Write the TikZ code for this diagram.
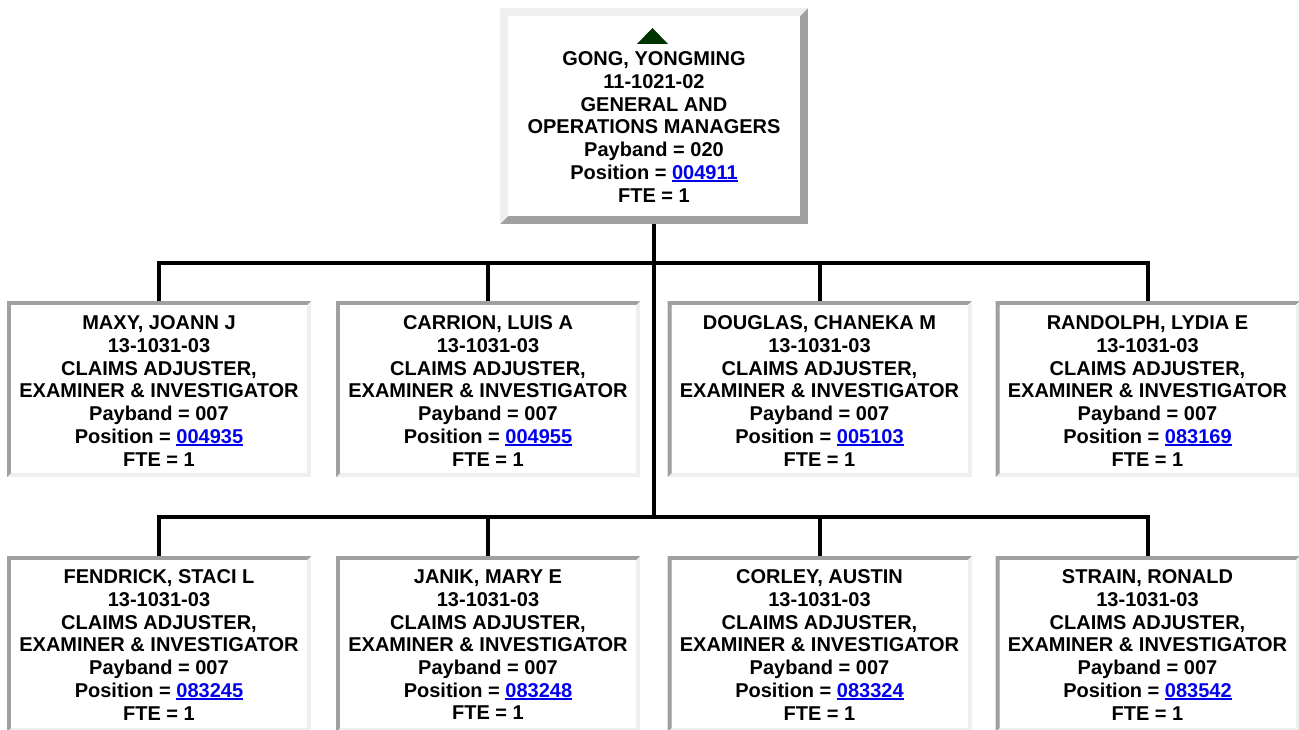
\documentclass[tikz,border=0pt]{standalone}
\usepackage{fontspec}
\setmainfont{Liberation Sans}
\usetikzlibrary{calc}
\definecolor{darkbev}{HTML}{A0A0A0}
\definecolor{lightbev}{HTML}{EFEFEF}
\definecolor{linkblue}{HTML}{0000EE}
\definecolor{tricol}{HTML}{003300}
\newcommand\lnk[1]{{\color{linkblue}\setbox0=\hbox{#1}\rlap{\rule[-3pt]{\wd0}{2pt}}\box0}}
\newcommand\bevel[4]{%
  \fill[#4] (#1.north west) rectangle (#1.south east);
  \fill[#3] (#1.south west) -- (#1.north west) -- (#1.north east)
     -- ([shift={(-#2pt,-#2pt)}]#1.north east) -- ([shift={(#2pt,-#2pt)}]#1.north west)
     -- ([shift={(#2pt,#2pt)}]#1.south west) -- cycle;
  \fill[white] ([shift={(#2pt,-#2pt)}]#1.north west) rectangle ([shift={(-#2pt,#2pt)}]#1.south east);
}
\newcommand\emp[4]{#1\\13-1031-03\\CLAIMS ADJUSTER,\\EXAMINER \& INVESTIGATOR\\Payband = 007\\Position = \lnk{#2}\\FTE = 1}
\tikzset{
  boxshape/.style={inner sep=0pt, outer sep=0pt, minimum width=304pt, minimum height=176pt},
  topshape/.style={inner sep=0pt, outer sep=0pt, minimum width=308pt, minimum height=216pt},
  txt/.style={inner sep=0pt, align=center, font=\bfseries\fontsize{20}{22.7}\selectfont, text=black},
  conn/.style={draw=black, line width=4pt, line join=miter},
}
\begin{document}
\begin{tikzpicture}[x=1pt, y=-1pt]
\useasboundingbox (0,0) rectangle (1299,730);
% box placeholders
\node[topshape] (top) at (654,116) {};
\node[boxshape] (b1) at (159,389) {};
\node[boxshape] (b2) at (488,389) {};
\node[boxshape] (b3) at (819.5,389) {};
\node[boxshape] (b4) at (1147.5,389) {};
\node[boxshape] (c1) at (159,644) {};
\node[boxshape] (c2) at (488,644) {};
\node[boxshape] (c3) at (819.5,644) {};
\node[boxshape] (c4) at (1147.5,644) {};
\coordinate (j1) at (654,263);
\coordinate (j2) at (654,517);
% connectors
\draw[conn] (top.south) -- (j2);
\draw[conn] (b1.north) -- (b1.north |- j1) -- (b4.north |- j1) -- (b4.north);
\draw[conn] (b2.north) -- (b2.north |- j1);
\draw[conn] (b3.north) -- (b3.north |- j1);
\draw[conn] (c1.north) -- (c1.north |- j2) -- (c4.north |- j2) -- (c4.north);
\draw[conn] (c2.north) -- (c2.north |- j2);
\draw[conn] (c3.north) -- (c3.north |- j2);
% bevelled boxes
\bevel{top}{8}{lightbev}{darkbev}
\foreach \b in {b1,b2,b3,b4,c1,c2,c3,c4} {\bevel{\b}{4}{darkbev}{lightbev}}
% triangle
\fill[tricol] (652.5,28) -- (668,44) -- (637,44) -- cycle;
% texts
\node[txt] (ttop) at (654,127) {GONG, YONGMING\\11-1021-02\\GENERAL AND\\OPERATIONS MANAGERS\\Payband = 020\\Position = \lnk{004911}\\FTE = 1};
\node[txt] (tb1) at (159,391) {\emp{MAXY, JOANN J}{004935}{}{}};
\node[txt] (tb2) at (488,391) {\emp{CARRION, LUIS A}{004955}{}{}};
\node[txt] (tb3) at (819.5,391) {\emp{DOUGLAS, CHANEKA M}{005103}{}{}};
\node[txt] (tb4) at (1147.5,391) {\emp{RANDOLPH, LYDIA E}{083169}{}{}};
\node[txt] (tc1) at (159,645) {\emp{FENDRICK, STACI L}{083245}{}{}};
\node[txt] (tc2) at (488,645) {\emp{JANIK, MARY E}{083248}{}{}};
\node[txt] (tc3) at (819.5,645) {\emp{CORLEY, AUSTIN}{083324}{}{}};
\node[txt] (tc4) at (1147.5,645) {\emp{STRAIN, RONALD}{083542}{}{}};
\end{tikzpicture}
\end{document}
